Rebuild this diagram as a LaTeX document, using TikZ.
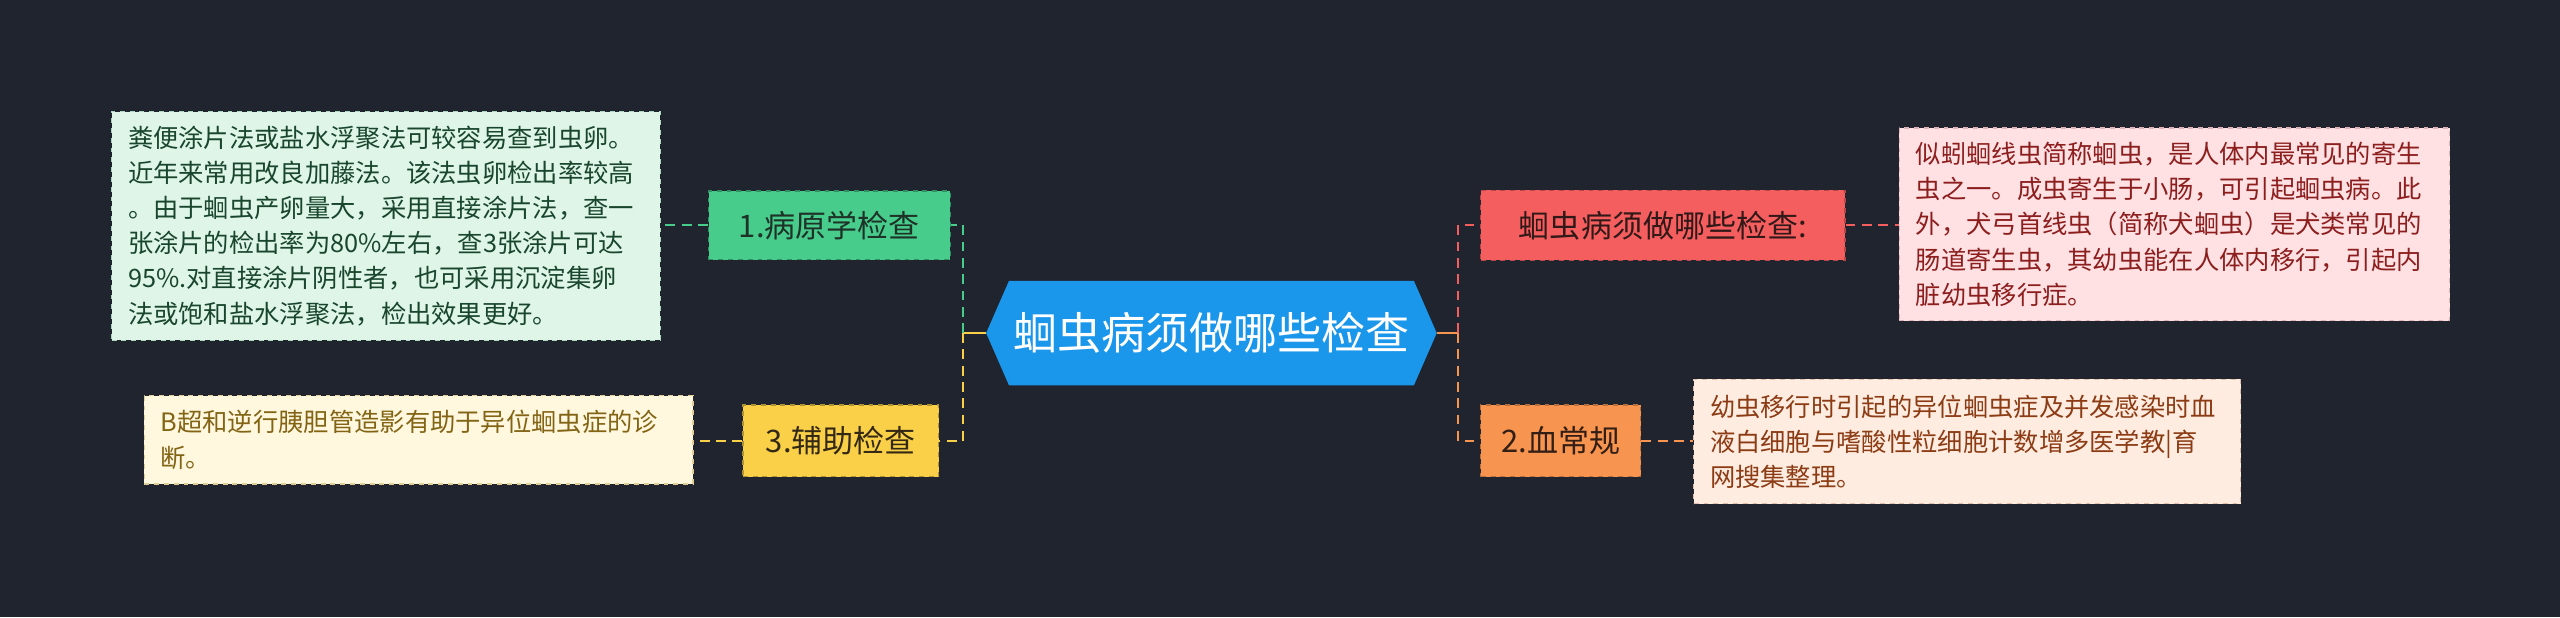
\documentclass[tikz,border=0pt]{standalone}
\usepackage{fontspec}
\setmainfont{Noto Sans CJK SC}
\begin{document}
\begin{tikzpicture}[x=1pt,y=-1pt,
  br/.style={minimum height=42pt,font=\fontsize{19}{22}\selectfont,inner xsep=10pt,draw,dashed,line width=0.8pt},
  tb/.style={draw,dashed,line width=0.8pt,align=left,anchor=north west,inner xsep=10pt,inner ysep=8pt,font=\fontsize{15.5}{21.5}\selectfont},
  cn/.style={dashed,line width=1.2pt,dash pattern=on 6pt off 4pt}]
\fill[fill={rgb,255:red,32;green,36;blue,47}] (0,0) rectangle (1568,378);
\useasboundingbox (0,0) rectangle (1568,378);
\definecolor{cblue}{RGB}{26,150,235}
\definecolor{cgreen}{RGB}{72,204,140}
\definecolor{cyel}{RGB}{250,208,72}
\definecolor{cred}{RGB}{245,94,94}
\definecolor{cora}{RGB}{247,148,80}
% center
\fill[cblue] (604,204) -- (618,172) -- (866,172) -- (880,204) -- (866,236) -- (618,236) -- cycle;
\node[text=white,font=\fontsize{27}{30}\selectfont,minimum width=250pt,minimum height=64pt] (c) at (742,204) {蛔虫病须做哪些检查};
\coordinate (cl) at (604,204); \coordinate (cr) at (880,204);
\coordinate (jl) at (590,204); \coordinate (jr) at (893,204);
% branches
\node[br,fill=cgreen,draw=cgreen!70!black,text={rgb,255:red,30;green,50;blue,40},minimum width=148pt] (n1) at (508,138) {1.病原学检查};
\node[br,fill=cyel,draw=cyel!70!black,text={rgb,255:red,50;green,40;blue,20},minimum width=120pt,minimum height=44pt] (n3) at (515,270) {3.辅助检查};
\node[br,fill=cred,draw=cred!75!black,text={rgb,255:red,50;green,25;blue,25},minimum width=223pt,minimum height=43pt] (nr) at (1018.5,138) {蛔虫病须做哪些检查:};
\node[br,fill=cora,draw=cora!75!black,text={rgb,255:red,50;green,30;blue,20},minimum width=98pt,minimum height=44pt] (n2) at (956,270) {2.血常规};
% text boxes
\node[tb,fill={rgb,255:red,222;green,245;blue,232},draw={rgb,255:red,170;green,215;blue,190},text={rgb,255:red,25;green,70;blue,45},text width=316pt,minimum height=140pt] (t1) at (68,68) {粪便涂片法或盐水浮聚法可较容易查到虫卵。\\近年来常用改良加藤法。该法虫卵检出率较高\\。由于蛔虫产卵量大，采用直接涂片法，查一\\张涂片的检出率为80\%左右，查3张涂片可达\\95\%.对直接涂片阴性者，也可采用沉淀集卵\\法或饱和盐水浮聚法，检出效果更好。};
\node[tb,fill={rgb,255:red,255;green,247;blue,222},draw={rgb,255:red,225;green,205;blue,150},text={rgb,255:red,130;green,100;blue,20},text width=316pt,minimum height=54pt] (t3) at (88,242) {B超和逆行胰胆管造影有助于异位蛔虫症的诊\\断。};
\node[tb,fill={rgb,255:red,255;green,225;blue,228},draw={rgb,255:red,225;green,180;blue,185},text={rgb,255:red,140;green,30;blue,30},text width=317pt,minimum height=118pt] (tr) at (1163,78) {似蚓蛔线虫简称蛔虫，是人体内最常见的寄生\\虫之一。成虫寄生于小肠，可引起蛔虫病。此\\外，犬弓首线虫（简称犬蛔虫）是犬类常见的\\肠道寄生虫，其幼虫能在人体内移行，引起内\\脏幼虫移行症。};
\node[tb,fill={rgb,255:red,255;green,236;blue,224},draw={rgb,255:red,225;green,190;blue,170},text={rgb,255:red,140;green,60;blue,20},text width=315pt,minimum height=76pt] (t2) at (1037,232) {幼虫移行时引起的异位蛔虫症及并发感染时血\\液白细胞与嗜酸性粒细胞计数增多医学教|育\\网搜集整理。};
% connectors
\draw[cyel,line width=1.2pt] (cl) -- (jl);
\draw[cora,line width=1.2pt] (cr) -- (jr);
\draw[cn,cgreen] (jl) |- (n1.east);
\draw[cn,cyel] (jl) |- (n3.east);
\draw[cn,cred] (jr) |- (nr.west);
\draw[cn,cora] (jr) |- (n2.west);
\draw[cn,cgreen] (n1.west) -- (t1.east |- n1.west);
\draw[cn,cyel] (n3.west) -- (t3.east |- n3.west);
\draw[cn,cred] (nr.east) -- (tr.west |- nr.east);
\draw[cn,cora] (n2.east) -- (t2.west |- n2.east);
\end{tikzpicture}
\end{document}
